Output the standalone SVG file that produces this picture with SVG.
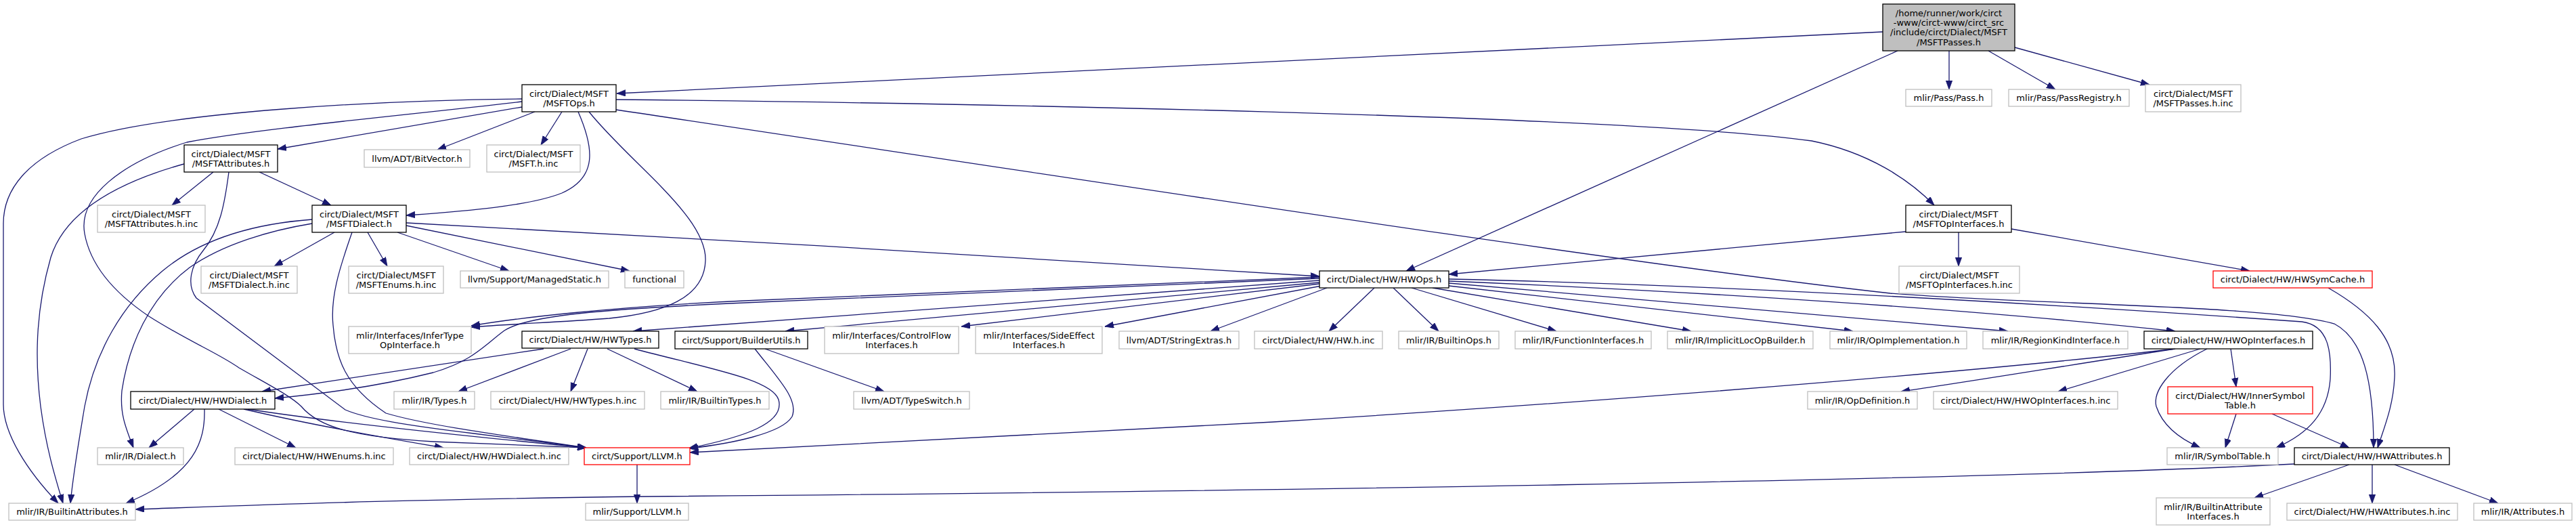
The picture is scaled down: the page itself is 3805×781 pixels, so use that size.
<svg xmlns="http://www.w3.org/2000/svg" width="3805" height="781" viewBox="0 0 3805 781">
<style>
rect{fill:#fff;stroke:#bfbfbf;stroke-width:1.3}
.b rect{stroke:#000}
.r rect{stroke:#ff0000}
.root rect{fill:#bfbfbf;stroke:#000}
text{font-family:"DejaVu Sans","Liberation Sans",sans-serif;font-size:13px;fill:#000;text-anchor:middle}
#edges path{fill:none;stroke:#191970;stroke-width:1.3;marker-end:url(#a)}
</style>
<defs>
<marker id="a" markerWidth="14" markerHeight="10" refX="13" refY="4.7" orient="auto" markerUnits="userSpaceOnUse"><path d="M0,0 L13,4.7 L0,9.4 z" fill="#191970" stroke="#191970" stroke-width="0.8"/></marker>
</defs>
<rect x="0" y="0" width="3805" height="781" style="fill:#fff;stroke:none"/>
<g id="edges">
<path d="M2781,47 L911,138"/>
<path d="M2803,75 L2077,400"/>
<path d="M2879,75 L2879,132"/>
<path d="M2937,75 L3036,132"/>
<path d="M2976,70 L3175,125"/>
<path d="M771,158 L410,220"/>
<path d="M790,165 L646,221"/>
<path d="M830,165 L799,214"/>
<path d="M854,165 C878,220 882,262 830,285 C780,305 680,312 600,318"/>
<path d="M771,146 C560,148 250,165 120,205 C40,235 5,280 5,330 L5,597 C5,640 40,695 86,743"/>
<path d="M771,150 C600,170 380,190 276,210 C180,240 115,290 125,345 C135,400 180,440 220,467 C280,505 320,520 353,543 C400,570 430,585 445,600 C470,630 520,645 640,652 L866,661"/>
<path d="M870,165 C930,240 1045,320 1042,385 C1040,440 980,462 900,470 C820,476 760,478 696,483"/>
<path d="M910,147 C1400,152 2400,170 2676,208 C2760,225 2820,265 2857,303"/>
<path d="M910,162 C1500,250 2400,390 2792,433 C3000,450 3350,450 3448,478 C3490,500 3506,560 3506,661"/>
<path d="M315,254 L254,303"/>
<path d="M383,254 L489,303"/>
<path d="M272,242 C200,262 100,300 75,380 C55,450 50,520 60,600 C68,660 80,700 93,743"/>
<path d="M338,254 C332,300 325,340 300,370 C282,392 275,420 290,440 L510,605 C540,618 600,628 700,640 C760,648 820,655 866,661"/>
<path d="M494,343 L405,393"/>
<path d="M543,343 L572,393"/>
<path d="M587,343 L752,400"/>
<path d="M600,333 L930,400"/>
<path d="M600,329 C1000,350 1600,385 1949,408"/>
<path d="M461,324 C380,330 300,350 240,400 C180,450 140,520 125,600 C115,660 108,700 104,743"/>
<path d="M461,330 C400,340 330,360 280,395 C220,440 190,510 180,577 C177,610 185,630 197,661"/>
<path d="M520,343 C500,400 488,440 492,480 C496,530 510,570 570,610 C620,625 700,637 866,661"/>
<path d="M1949,409 L1100,444 C900,453 760,470 696,481"/>
<path d="M1949,411 L1100,447 C900,456 780,465 745,488 C715,510 700,532 640,550 C560,570 470,582 406,588"/>
<path d="M1949,414 L935,489"/>
<path d="M1949,417 L1160,489"/>
<path d="M1949,419 L1420,482"/>
<path d="M1952,422 L1632,482"/>
<path d="M1960,425 L1788,489"/>
<path d="M2030,425 L1963,489"/>
<path d="M2058,425 L2125,489"/>
<path d="M2085,425 L2299,489"/>
<path d="M2116,425 L2498,489"/>
<path d="M2140,422 L2737,489"/>
<path d="M2140,418 L2966,489"/>
<path d="M2140,415 C2500,430 2900,455 3213,489"/>
<path d="M2140,412 C2500,420 2900,440 3400,475 C3440,480 3444,520 3442,560 C3438,610 3410,640 3362,661"/>
<path d="M2815,342 L2140,405"/>
<path d="M2893,343 L2893,393"/>
<path d="M2971,338 L3323,400"/>
<path d="M3439,425 C3500,460 3540,500 3537,557 C3535,600 3522,630 3512,661"/>
<path d="M803,515 L387,578"/>
<path d="M843,515 L677,578"/>
<path d="M868,515 L843,578"/>
<path d="M897,515 L1030,578"/>
<path d="M937,515 C1050,545 1140,560 1150,590 C1160,625 1100,645 1017,662"/>
<path d="M1115,515 C1150,560 1180,590 1170,615 C1155,640 1080,655 1018,662"/>
<path d="M1130,515 L1306,578"/>
<path d="M3213,515 C3000,540 2500,585 1880,623 C1500,645 1200,658 1019,668"/>
<path d="M3213,515 C3050,540 2900,565 2808,578"/>
<path d="M3250,515 L3040,578"/>
<path d="M3260,515 C3200,545 3180,580 3185,600 C3195,630 3220,648 3250,661"/>
<path d="M3295,515 L3303,571"/>
<path d="M3303,611 L3287,661"/>
<path d="M3356,611 L3470,661"/>
<path d="M287,604 L220,661"/>
<path d="M302,604 C303,650 290,700 186,743"/>
<path d="M323,604 L437,661"/>
<path d="M360,604 C450,625 560,645 655,661"/>
<path d="M366,604 C500,625 700,645 866,661"/>
<path d="M941,686 L941,743"/>
<path d="M3389,685 C2900,710 1800,726 960,733 C600,737 400,745 200,752"/>
<path d="M3470,686 L3330,735"/>
<path d="M3504,686 L3504,743"/>
<path d="M3537,686 L3690,743"/>
</g>
<g id="n_root" class="root"><rect x="2781" y="6" width="195" height="69"/><text x="2878.5" y="23.6">/home/runner/work/circt</text><text x="2878.5" y="38">-www/circt-www/circt_src</text><text x="2878.5" y="52.4">/include/circt/Dialect/MSFT</text><text x="2878.5" y="66.8">/MSFTPasses.h</text></g>
<g id="n_msftops" class="b"><rect x="771" y="125" width="139" height="40"/><text x="840.5" y="142.5">circt/Dialect/MSFT</text><text x="840.5" y="156.9">/MSFTOps.h</text></g>
<g id="n_pass"><rect x="2815" y="132" width="127" height="25"/><text x="2878.5" y="149.2">mlir/Pass/Pass.h</text></g>
<g id="n_passreg"><rect x="2967" y="132" width="178" height="25"/><text x="3056" y="149.2">mlir/Pass/PassRegistry.h</text></g>
<g id="n_passinc"><rect x="3169" y="125" width="141" height="40"/><text x="3239.5" y="142.5">circt/Dialect/MSFT</text><text x="3239.5" y="156.9">/MSFTPasses.h.inc</text></g>
<g id="n_msftattr" class="b"><rect x="272" y="214" width="138" height="40"/><text x="341" y="231.5">circt/Dialect/MSFT</text><text x="341" y="245.9">/MSFTAttributes.h</text></g>
<g id="n_bitvector"><rect x="538" y="221" width="156" height="26"/><text x="616" y="238.7">llvm/ADT/BitVector.h</text></g>
<g id="n_msftinc"><rect x="719" y="214" width="138" height="40"/><text x="788" y="231.5">circt/Dialect/MSFT</text><text x="788" y="245.9">/MSFT.h.inc</text></g>
<g id="n_msftopif" class="b"><rect x="2815" y="303" width="156" height="40"/><text x="2893" y="320.5">circt/Dialect/MSFT</text><text x="2893" y="334.9">/MSFTOpInterfaces.h</text></g>
<g id="n_msftattrinc"><rect x="144" y="303" width="159" height="40"/><text x="223.5" y="320.5">circt/Dialect/MSFT</text><text x="223.5" y="334.9">/MSFTAttributes.h.inc</text></g>
<g id="n_msftdialect" class="b"><rect x="461" y="303" width="139" height="40"/><text x="530.5" y="320.5">circt/Dialect/MSFT</text><text x="530.5" y="334.9">/MSFTDialect.h</text></g>
<g id="n_msftdialectinc"><rect x="297" y="393" width="142" height="40"/><text x="368" y="410.5">circt/Dialect/MSFT</text><text x="368" y="424.9">/MSFTDialect.h.inc</text></g>
<g id="n_msftenums"><rect x="515" y="393" width="140" height="40"/><text x="585" y="410.5">circt/Dialect/MSFT</text><text x="585" y="424.9">/MSFTEnums.h.inc</text></g>
<g id="n_managed"><rect x="680" y="400" width="219" height="25"/><text x="789.5" y="417.2">llvm/Support/ManagedStatic.h</text></g>
<g id="n_functional"><rect x="923" y="400" width="87" height="25"/><text x="966.5" y="417.2">functional</text></g>
<g id="n_hwops" class="b"><rect x="1949" y="400" width="191" height="25"/><text x="2044.5" y="417.2">circt/Dialect/HW/HWOps.h</text></g>
<g id="n_msftopifinc"><rect x="2805" y="393" width="178" height="40"/><text x="2894" y="410.5">circt/Dialect/MSFT</text><text x="2894" y="424.9">/MSFTOpInterfaces.h.inc</text></g>
<g id="n_symcache" class="r"><rect x="3269" y="400" width="235" height="25"/><text x="3386.5" y="417.2">circt/Dialect/HW/HWSymCache.h</text></g>
<g id="n_infertype"><rect x="515" y="482" width="181" height="40"/><text x="605.5" y="499.5">mlir/Interfaces/InferType</text><text x="605.5" y="513.9">OpInterface.h</text></g>
<g id="n_hwtypes" class="b"><rect x="771" y="489" width="202" height="25"/><text x="872" y="506.2">circt/Dialect/HW/HWTypes.h</text></g>
<g id="n_builderutils" class="b"><rect x="997" y="489" width="196" height="26"/><text x="1095" y="506.7">circt/Support/BuilderUtils.h</text></g>
<g id="n_controlflow"><rect x="1218" y="482" width="198" height="40"/><text x="1317" y="499.5">mlir/Interfaces/ControlFlow</text><text x="1317" y="513.9">Interfaces.h</text></g>
<g id="n_sideeffect"><rect x="1441" y="482" width="187" height="40"/><text x="1534.5" y="499.5">mlir/Interfaces/SideEffect</text><text x="1534.5" y="513.9">Interfaces.h</text></g>
<g id="n_stringextras"><rect x="1653" y="489" width="177" height="26"/><text x="1741.5" y="506.7">llvm/ADT/StringExtras.h</text></g>
<g id="n_hwinc"><rect x="1853" y="489" width="189" height="26"/><text x="1947.5" y="506.7">circt/Dialect/HW/HW.h.inc</text></g>
<g id="n_builtinops"><rect x="2066" y="489" width="148" height="26"/><text x="2140" y="506.7">mlir/IR/BuiltinOps.h</text></g>
<g id="n_funcif"><rect x="2238" y="489" width="201" height="26"/><text x="2338.5" y="506.7">mlir/IR/FunctionInterfaces.h</text></g>
<g id="n_implicitloc"><rect x="2463" y="489" width="215" height="26"/><text x="2570.5" y="506.7">mlir/IR/ImplicitLocOpBuilder.h</text></g>
<g id="n_opimpl"><rect x="2703" y="489" width="202" height="26"/><text x="2804" y="506.7">mlir/IR/OpImplementation.h</text></g>
<g id="n_regionkind"><rect x="2929" y="489" width="214" height="26"/><text x="3036" y="506.7">mlir/IR/RegionKindInterface.h</text></g>
<g id="n_hwopif" class="b"><rect x="3167" y="489" width="249" height="26"/><text x="3291.5" y="506.7">circt/Dialect/HW/HWOpInterfaces.h</text></g>
<g id="n_hwdialect" class="b"><rect x="193" y="578" width="213" height="26"/><text x="299.5" y="595.7">circt/Dialect/HW/HWDialect.h</text></g>
<g id="n_types"><rect x="582" y="578" width="119" height="26"/><text x="641.5" y="595.7">mlir/IR/Types.h</text></g>
<g id="n_hwtypesinc"><rect x="725" y="578" width="227" height="26"/><text x="838.5" y="595.7">circt/Dialect/HW/HWTypes.h.inc</text></g>
<g id="n_builtintypes"><rect x="976" y="578" width="160" height="26"/><text x="1056" y="595.7">mlir/IR/BuiltinTypes.h</text></g>
<g id="n_typeswitch"><rect x="1261" y="578" width="171" height="26"/><text x="1346.5" y="595.7">llvm/ADT/TypeSwitch.h</text></g>
<g id="n_opdef"><rect x="2670" y="578" width="162" height="26"/><text x="2751" y="595.7">mlir/IR/OpDefinition.h</text></g>
<g id="n_hwopifinc"><rect x="2856" y="578" width="272" height="26"/><text x="2992" y="595.7">circt/Dialect/HW/HWOpInterfaces.h.inc</text></g>
<g id="n_innersym" class="r"><rect x="3202" y="571" width="214" height="40"/><text x="3309" y="588.5">circt/Dialect/HW/InnerSymbol</text><text x="3309" y="602.9">Table.h</text></g>
<g id="n_dialect"><rect x="144" y="661" width="127" height="25"/><text x="207.5" y="678.2">mlir/IR/Dialect.h</text></g>
<g id="n_hwenums"><rect x="347" y="661" width="234" height="25"/><text x="464" y="678.2">circt/Dialect/HW/HWEnums.h.inc</text></g>
<g id="n_hwdialectinc"><rect x="605" y="661" width="235" height="25"/><text x="722.5" y="678.2">circt/Dialect/HW/HWDialect.h.inc</text></g>
<g id="n_circtllvm" class="r"><rect x="863" y="661" width="156" height="25"/><text x="941" y="678.2">circt/Support/LLVM.h</text></g>
<g id="n_symboltable"><rect x="3201" y="661" width="164" height="25"/><text x="3283" y="678.2">mlir/IR/SymbolTable.h</text></g>
<g id="n_hwattr" class="b"><rect x="3389" y="661" width="229" height="25"/><text x="3503.5" y="678.2">circt/Dialect/HW/HWAttributes.h</text></g>
<g id="n_builtinattr"><rect x="13" y="743" width="187" height="25"/><text x="106.5" y="760.2">mlir/IR/BuiltinAttributes.h</text></g>
<g id="n_mlirllvm"><rect x="865" y="743" width="152" height="25"/><text x="941" y="760.2">mlir/Support/LLVM.h</text></g>
<g id="n_builtinattrif"><rect x="3185" y="735" width="168" height="40"/><text x="3269" y="752.5">mlir/IR/BuiltinAttribute</text><text x="3269" y="766.9">Interfaces.h</text></g>
<g id="n_hwattrinc"><rect x="3378" y="743" width="252" height="25"/><text x="3504" y="760.2">circt/Dialect/HW/HWAttributes.h.inc</text></g>
<g id="n_attributes"><rect x="3654" y="743" width="145" height="25"/><text x="3726.5" y="760.2">mlir/IR/Attributes.h</text></g>
</svg>
